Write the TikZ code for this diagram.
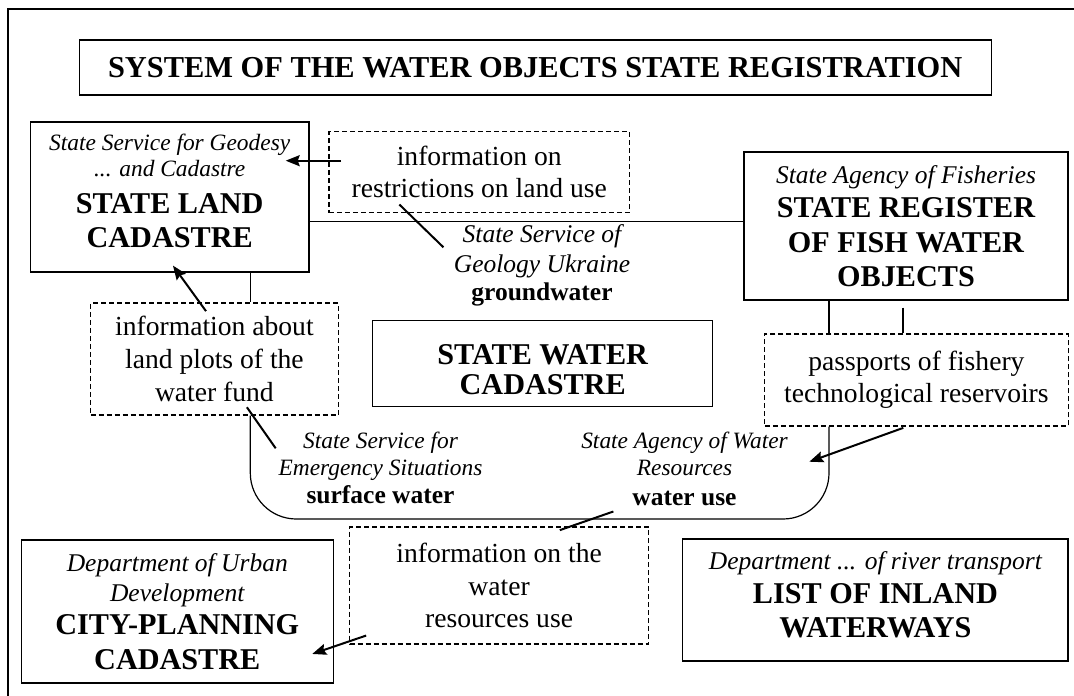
\documentclass[tikz,border=0pt]{standalone}
\usepackage{fontspec}
\setmainfont{Liberation Serif}
\usetikzlibrary{arrows.meta,positioning}

\newcommand{\orgit}{\fontsize{12.75}{13}\selectfont\mdseries\itshape}
\newcommand{\srcit}{\fontsize{11.7}{13}\selectfont\mdseries\itshape}
\newcommand{\kindbf}{\fontsize{12.75}{13}\selectfont\bfseries\upshape}

\begin{document}
\begin{tikzpicture}[x=0.5pt,y=-0.5pt,
	reg/.style={draw,line width=0.65pt,inner sep=0pt,align=center,font=\fontsize{15.1}{13}\selectfont\bfseries},
	info/.style={draw,dash pattern=on 2.5pt off 1.5pt,line width=0.55pt,inner sep=0pt,align=center,font=\fontsize{13.8}{13}\selectfont},
	src/.style={inner sep=0pt,align=center,font=\srcit},
	link/.style={line width=0.6pt},
	tie/.style={line width=1pt},
	arr/.style={line width=1pt,-{Stealth[length=7pt,width=5.5pt,inset=1pt]}}]
				\useasboundingbox (0,0) rectangle (1074,695);
				\clip (0,0) rectangle (1074,695);
				\draw[line width=1pt] (8.3,9.3) rectangle (1100,720);
				% registers
				\node[reg,minimum width=456pt,minimum height=27.5pt,font=\fontsize{15.2}{13}\selectfont\bfseries] (title) at (535.2,67.5) {SYSTEM OF THE WATER OBJECTS STATE REGISTRATION};
				\node[reg,minimum width=139.35pt,minimum height=75pt,text depth=6.5pt] (land) at (169.7,197) {\srcit State Service for Geodesy\\ \srcit ... and Cadastre\\[5.5pt] STATE LAND\\[4pt] CADASTRE};
				\node[reg,minimum width=162pt,minimum height=74pt] (fish) at (906,226) {\orgit State Agency of Fisheries\\[4pt] STATE REGISTER\\[4.5pt] OF FISH WATER\\[4pt] OBJECTS};
				\node[reg,minimum width=170pt,minimum height=43pt,text height=31pt] (watercad) at (542.7,363.7) {STATE WATER\\[2pt] CADASTRE};
				\node[reg,minimum width=156pt,minimum height=71.5pt] (city) at (177.3,611.5) {\orgit Department of Urban\\[2pt] \orgit Development\\[3.5pt] CITY-PLANNING\\[4.5pt] CADASTRE};
				\node[reg,minimum width=192.6pt,minimum height=61pt,text depth=5pt] (inland) at (875.4,600) {\orgit Department ... of river transport\\[4pt] LIST OF INLAND\\[4pt] WATERWAYS};
				% information flows
				\node[info,minimum width=150.25pt,minimum height=40.4pt] (restr) at (479.2,172.1) {information on\\[3pt] restrictions on land use};
				\node[info,minimum width=123.8pt,minimum height=56pt] (plots) at (214.4,359) {information about\\[3.5pt] land plots of the\\[3.5pt] water fund};
				\node[info,minimum width=151.65pt,minimum height=46pt] (passports) at (916.4,380) {passports of fishery\\[3pt] technological reservoirs};
				\node[info,minimum width=149.6pt,minimum height=58.5pt] (resuse) at (499.1,585.5) {information on the\\[3.25pt] water\\[3.25pt] resources use};
				% water kinds
				\node[src,font=\orgit] (geol) at (542,265) {State Service of\\[2pt] Geology Ukraine\\[1pt] \kindbf groundwater};
				\node[src] (emerg) at (380.5,467.5) {State Service for\\[0.5pt] Emergency Situations\\[1pt] \kindbf surface water};
				\node[src] (wres) at (684.5,468.5) {State Agency of Water\\[0.5pt] Resources\\[2pt] \kindbf water use};
				% ring round the water cadastre
				\coordinate (ringbase) at (0,519);
				\coordinate (plotsfoot) at ([xshift=17.95pt]plots.south);
				\coordinate (pondfoot) at ([xshift=-43.7pt]passports.south);
				\draw[link] ([yshift=-12.35pt]land.east) -- ([yshift=-12.35pt]land.east -| fish.west);
				\draw[link] ([xshift=40.3pt]land.south) -- ([xshift=40.3pt]land.south |- plots.north);
				\draw[link,rounded corners=23pt] (plotsfoot) -- (plotsfoot |- ringbase) -- (pondfoot |- ringbase) -- (pondfoot);
				\draw[link] ([xshift=-38.5pt]fish.south) -- ([xshift=-38.5pt]fish.south |- passports.north);
				\draw[line width=1.3pt] ([xshift=-1.5pt,yshift=-3.5pt]fish.south) -- ([xshift=-1.5pt]fish.south |- passports.north);
				% arrows
				\draw[arr] ([xshift=6.35pt,yshift=5.7pt]restr.west) -- ([xshift=-12pt,yshift=5.7pt]restr.west -| land.east);
				\draw[arr] ([xshift=-4.2pt,yshift=-4.35pt]plots.north) -- ([xshift=1.65pt,yshift=3.5pt]land.south);
				\draw[arr] ([xshift=-6.55pt,yshift=-0.65pt]passports.south) -- ([xshift=10.6pt,yshift=3.4pt]wres.east);
				\draw[arr] ([xshift=8.6pt,yshift=4.5pt]resuse.south west) -- ([xshift=-10.85pt,yshift=14.85pt]city.south east);
				% pointers
				\draw[tie] ([xshift=-39.9pt,yshift=4.25pt]restr.south) -- ([xshift=-5pt,yshift=8.85pt]geol.west);
				\draw[tie] ([xshift=16.25pt,yshift=4.15pt]plots.south) -- ([xshift=-1.25pt,yshift=9.6pt]emerg.west);
				\draw[tie] ([xshift=-35.55pt,yshift=-2.85pt]wres.south) -- ([xshift=30.35pt,yshift=-1.85pt]resuse.north);
			\end{tikzpicture}
\end{document}
